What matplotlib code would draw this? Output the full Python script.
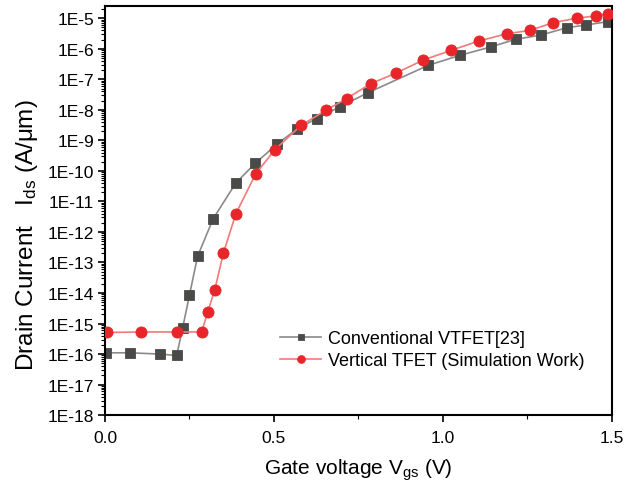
import matplotlib
matplotlib.use("Agg")
import matplotlib.pyplot as plt
import numpy as np
from matplotlib.ticker import FixedLocator, FuncFormatter, MultipleLocator

plt.rcParams['font.family'] = ['Liberation Sans', 'DejaVu Sans']
plt.rcParams['mathtext.fontset'] = 'custom'
plt.rcParams['mathtext.rm'] = 'Liberation Sans'
plt.rcParams['mathtext.it'] = 'Liberation Sans:italic'

# Conventional VTFET [23]
vgs_conv = [0.003, 0.074, 0.163, 0.212, 0.23, 0.25, 0.274, 0.32, 0.387, 0.445,
            0.51, 0.567, 0.626, 0.695, 0.777, 0.957, 1.05, 1.141, 1.215, 1.289,
            1.366, 1.422, 1.489]
ids_conv = [1.1e-16, 1.1e-16, 1.0e-16, 0.9e-16, 7.4e-16, 8.7e-15, 1.6e-13, 2.7e-12,
            4.0e-11, 1.8e-10, 7.7e-10, 2.3e-9, 5.2e-9, 1.26e-8, 3.6e-8, 2.9e-7,
            6.1e-7, 1.15e-6, 2.05e-6, 2.8e-6, 4.9e-6, 6.0e-6, 7.8e-6]

# Vertical TFET (simulation)
vgs_sim = [0.007, 0.108, 0.214, 0.286, 0.304, 0.325, 0.35, 0.387, 0.446, 0.503,
           0.58, 0.654, 0.715, 0.786, 0.861, 0.942, 1.024, 1.106, 1.188, 1.257,
           1.326, 1.395, 1.452, 1.487]
ids_sim = [5.1e-16, 5.3e-16, 5.3e-16, 5.3e-16, 2.4e-15, 1.3e-14, 2.0e-13, 3.9e-12,
           8.1e-11, 5.0e-10, 3.1e-9, 9.8e-9, 2.35e-8, 7.2e-8, 1.6e-7, 4.3e-7,
           8.9e-7, 1.8e-6, 3.1e-6, 4.0e-6, 7.2e-6, 1.0e-5, 1.2e-5, 1.35e-5]

decades = list(range(-18, -4))
x_ticks = [0.0, 0.5, 1.0, 1.5]

fig = plt.figure(figsize=(6.34, 4.85), dpi=100)
ax = fig.add_axes([0.1656, 0.142, 0.7997, 0.8433])

ax.plot(vgs_conv, ids_conv, color='#8a8a8a', lw=1.2, marker='s', ms=6.5, mew=0.6,
        mfc='#4a4a48', mec='#4a4a48', label='Conventional VTFET[23]', zorder=2)
ax.plot(vgs_sim, ids_sim, color='#f07a78', lw=1.2, marker='o', ms=8, mew=0.6,
        mfc='#e8262a', mec='#e8262a', label='Vertical TFET (Simulation Work)', zorder=3)

ax.set_yscale('log')
ax.set_ylim(1e-18, 2.5e-5)
ax.set_xlim(0, 1.5)

ax.yaxis.set_major_locator(FixedLocator([10.0 ** d for d in decades]))
ax.yaxis.set_major_formatter(FuncFormatter(lambda v, p: '1E%d' % round(np.log10(v))))
minor = [m * 10.0 ** d for d in decades for m in range(2, 10)]
ax.yaxis.set_minor_locator(FixedLocator(minor))
ax.xaxis.set_major_locator(FixedLocator(x_ticks))
ax.xaxis.set_major_formatter(FuncFormatter(lambda v, p: '%.1f' % v))
ax.xaxis.set_minor_locator(MultipleLocator(0.25))

ax.tick_params(axis='both', which='major', direction='out', length=5, width=1.2,
               labelsize=12.5, top=False, right=False)
ax.tick_params(axis='x', which='major', pad=6)
ax.tick_params(axis='y', which='major', pad=3)
ax.tick_params(axis='both', which='minor', direction='out', length=3, width=0.8,
               top=False, right=False)
for s in ax.spines.values():
    s.set_linewidth(1.5)

ax.set_xlabel('Gate voltage V$_{\\rm gs}$ (V)', fontsize=15, labelpad=8)
ax.set_ylabel('Drain Current   I$_{\\rm ds}$ (A/\u03bcm)', fontsize=17.5)
ax.yaxis.set_label_coords(-0.128, 0.4425)

ax.legend(loc='center left', bbox_to_anchor=(0.313, 0.160), frameon=False,
          fontsize=13, handlelength=2.3, handletextpad=0.35, labelspacing=0.25,
          markerscale=0.7)

fig.savefig('out.png', dpi=100)
